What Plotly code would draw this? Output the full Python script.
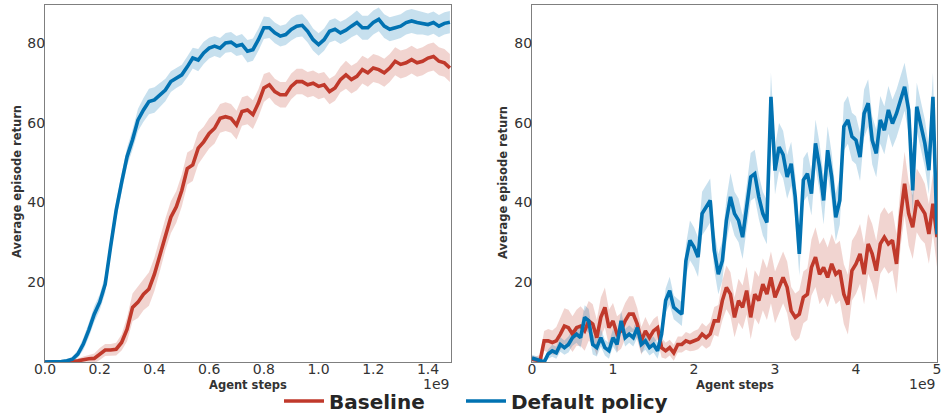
import plotly.graph_objects as go

# ---------------- data (agent steps in units of 1e9) ----------------
steps_left = [0.00, 0.02, 0.04, 0.06, 0.08, 0.10, 0.12, 0.14, 0.16, 0.18,
              0.20, 0.22, 0.24, 0.26, 0.28, 0.30, 0.32, 0.34, 0.36, 0.38,
              0.40, 0.42, 0.44, 0.46, 0.48, 0.50, 0.52, 0.54, 0.56, 0.58,
              0.60, 0.62, 0.64, 0.66, 0.68, 0.70, 0.72, 0.74, 0.76, 0.78,
              0.80, 0.82, 0.84, 0.86, 0.88, 0.90, 0.92, 0.94, 0.96, 0.98,
              1.00, 1.02, 1.04, 1.06, 1.08, 1.10, 1.12, 1.14, 1.16, 1.18,
              1.20, 1.22, 1.24, 1.26, 1.28, 1.30, 1.32, 1.34, 1.36, 1.38,
              1.40, 1.42, 1.44, 1.46, 1.48]

default_left = [0.0, 0.0, 0.0, 0.1, 0.3, 0.7, 2.0, 4.5, 8.0, 12.0,
                15.0, 19.5, 29.0, 38.0, 45.0, 51.5, 55.7, 60.7, 63.2, 65.3,
                65.7, 67.0, 68.2, 70.3, 71.2, 72.0, 74.0, 76.2, 75.7, 77.5,
                78.7, 79.2, 78.7, 80.0, 80.2, 79.2, 79.6, 77.9, 78.3, 80.8,
                83.8, 83.8, 82.5, 81.7, 82.1, 83.4, 84.2, 84.4, 82.9, 80.8,
                79.6, 80.8, 82.9, 83.4, 82.5, 83.2, 84.2, 85.1, 83.8, 83.8,
                85.1, 85.9, 84.2, 83.4, 83.8, 84.2, 85.1, 85.5, 85.1, 84.9,
                84.6, 85.1, 84.2, 84.9, 85.2]
default_left_spread = [0.3, 0.3, 0.3, 0.3, 0.4, 0.6, 1.0, 1.5, 1.8, 2.0,
                       2.0, 2.2, 2.2, 2.2, 2.2, 2.3, 2.5, 2.8, 3.0, 3.2,
                       3.2, 3.0, 2.8, 2.6, 2.5, 2.5, 2.6, 2.6, 2.8, 2.8,
                       2.6, 2.5, 2.5, 2.5, 2.5, 2.5, 2.6, 2.8, 2.8, 2.8,
                       2.8, 2.6, 2.6, 2.6, 2.6, 2.8, 2.8, 2.8, 2.8, 2.8,
                       2.8, 2.8, 2.8, 2.8, 2.8, 2.8, 2.8, 3.0, 3.0, 3.0,
                       3.0, 3.0, 3.0, 3.0, 3.0, 3.0, 3.0, 3.0, 3.0, 2.8,
                       2.8, 2.8, 2.8, 2.8, 2.8]

baseline_left = [0.0, 0.0, 0.0, 0.0, 0.0, 0.1, 0.3, 0.6, 0.8, 0.9,
                 2.0, 3.0, 3.0, 3.2, 4.9, 8.2, 13.7, 15.0, 17.0, 18.3,
                 22.0, 27.0, 32.0, 36.3, 38.9, 43.0, 48.5, 49.4, 53.6, 55.2,
                 57.3, 58.6, 61.1, 61.5, 61.1, 59.4, 62.8, 63.2, 62.0, 64.9,
                 68.7, 69.5, 67.8, 67.0, 67.0, 69.1, 70.3, 70.3, 69.5, 69.9,
                 69.1, 69.5, 67.8, 68.7, 70.8, 72.0, 70.8, 71.6, 73.3, 72.5,
                 73.7, 73.3, 72.5, 73.7, 75.4, 74.6, 75.0, 75.8, 75.0, 75.4,
                 76.2, 76.6, 75.4, 75.0, 73.7]
baseline_left_spread = [0.2, 0.2, 0.2, 0.2, 0.2, 0.3, 0.5, 0.8, 1.0, 1.2,
                        1.5, 1.5, 1.5, 1.6, 2.0, 3.0, 3.5, 4.0, 4.0, 4.2,
                        4.2, 4.2, 4.0, 4.0, 4.0, 4.0, 4.0, 4.0, 4.0, 3.8,
                        3.8, 3.8, 3.6, 3.6, 3.6, 3.6, 3.6, 3.6, 3.6, 3.5,
                        3.5, 3.2, 3.2, 3.2, 3.2, 3.2, 3.2, 3.2, 3.2, 3.2,
                        3.2, 3.2, 3.2, 3.2, 3.2, 3.5, 3.5, 3.5, 3.5, 3.5,
                        3.5, 3.5, 3.5, 3.5, 3.5, 3.5, 3.5, 3.5, 3.5, 3.5,
                        3.5, 3.5, 3.5, 3.5, 3.5]

steps_right = [0.00, 0.05, 0.10, 0.15, 0.20, 0.25, 0.30, 0.35, 0.40, 0.45,
               0.50, 0.55, 0.60, 0.65, 0.70, 0.75, 0.80, 0.85, 0.90, 0.95,
               1.00, 1.05, 1.10, 1.15, 1.20, 1.25, 1.30, 1.35, 1.40, 1.45,
               1.50, 1.55, 1.60, 1.65, 1.70, 1.75, 1.80, 1.85, 1.90, 1.95,
               2.00, 2.05, 2.10, 2.15, 2.20, 2.25, 2.30, 2.35, 2.40, 2.45,
               2.50, 2.55, 2.60, 2.65, 2.70, 2.75, 2.80, 2.85, 2.90, 2.95,
               3.00, 3.05, 3.10, 3.15, 3.20, 3.25, 3.30, 3.35, 3.40, 3.45,
               3.50, 3.55, 3.60, 3.65, 3.70, 3.75, 3.80, 3.85, 3.90, 3.95,
               4.00, 4.05, 4.10, 4.15, 4.20, 4.25, 4.30, 4.35, 4.40, 4.45,
               4.50, 4.55, 4.60, 4.65, 4.70, 4.75, 4.80, 4.85, 4.90, 4.95,
               5.00]

default_right = [1.0, 0.7, 0.3, 0.0, 2.0, 2.8, 2.3, 4.4, 3.6, 4.4,
                 6.1, 7.0, 6.1, 11.2, 10.3, 4.4, 3.6, 6.1, 3.6, 2.8,
                 6.1, 4.4, 10.3, 6.1, 7.0, 6.1, 8.6, 4.4, 5.3, 3.6,
                 4.4, 2.8, 7.0, 15.4, 17.9, 13.7, 12.8, 12.0, 25.4, 30.5,
                 28.8, 26.3, 37.2, 38.8, 40.5, 28.0, 22.0, 25.4, 35.5, 41.4,
                 37.2, 35.5, 31.3, 38.8, 46.4, 47.2, 41.4, 37.2, 35.0, 66.5,
                 48.0, 53.9, 52.0, 46.4, 49.7, 41.4, 27.1, 45.6, 47.2, 42.2,
                 54.8, 48.9, 40.5, 53.1, 46.4, 36.3, 40.5, 59.0, 60.7, 56.5,
                 55.6, 51.4, 62.3, 64.9, 55.6, 52.3, 60.7, 58.1, 63.2, 59.8,
                 62.3, 65.7, 69.0, 63.2, 43.0, 64.0, 59.0, 54.8, 48.1, 66.5,
                 32.0]
default_right_spread = [0.8, 0.8, 0.8, 0.8, 1.2, 1.5, 1.5, 1.8, 1.8, 2.0,
                        2.0, 2.2, 2.5, 3.0, 3.0, 2.5, 2.2, 2.2, 2.0, 2.0,
                        2.2, 2.2, 2.5, 2.2, 2.2, 2.2, 2.5, 2.2, 2.2, 2.0,
                        2.0, 2.0, 2.5, 3.0, 3.5, 3.0, 3.0, 3.0, 4.0, 5.0,
                        5.0, 5.0, 5.5, 5.5, 5.5, 5.0, 5.0, 5.0, 5.5, 6.0,
                        5.5, 5.5, 5.5, 5.5, 6.0, 6.0, 5.5, 5.5, 5.5, 6.0,
                        6.0, 6.0, 6.0, 5.5, 5.5, 5.5, 5.5, 5.5, 5.5, 5.5,
                        6.0, 6.0, 6.0, 6.0, 6.0, 6.0, 6.0, 6.0, 6.0, 6.0,
                        6.0, 6.0, 6.0, 6.0, 6.0, 6.0, 6.0, 6.0, 6.0, 6.0,
                        6.0, 6.0, 6.0, 6.0, 6.0, 6.0, 6.0, 6.0, 6.0, 6.0,
                        6.0]

baseline_right = [0.7, 0.4, 0.3, 5.3, 5.3, 4.9, 5.3, 7.0, 9.0, 8.6,
                  7.0, 8.6, 9.0, 7.8, 10.3, 9.5, 6.1, 11.2, 13.7, 8.6,
                  10.3, 7.0, 7.8, 10.3, 12.0, 12.0, 9.5, 5.3, 7.8, 6.1,
                  7.8, 8.6, 3.6, 2.8, 3.6, 2.3, 4.4, 4.4, 5.3, 4.9,
                  5.3, 5.7, 7.0, 6.1, 7.0, 10.3, 10.3, 15.4, 18.7, 17.0,
                  11.2, 15.4, 13.7, 17.9, 11.2, 17.0, 15.4, 19.5, 17.0, 21.2,
                  16.2, 18.7, 21.2, 18.7, 12.8, 11.2, 12.0, 16.2, 17.0, 23.7,
                  26.3, 22.0, 23.7, 21.2, 24.6, 22.0, 22.9, 17.0, 14.4, 22.9,
                  24.6, 27.1, 22.0, 29.6, 27.1, 22.9, 29.6, 31.3, 29.6, 30.5,
                  24.6, 36.3, 44.7, 37.2, 33.8, 40.5, 38.8, 37.2, 32.1, 39.7,
                  31.3]
baseline_right_spread = [0.8, 1.0, 1.5, 2.5, 3.0, 3.0, 3.5, 4.0, 4.5, 4.5,
                         4.5, 4.5, 5.0, 5.0, 5.0, 5.0, 4.5, 5.0, 5.0, 4.5,
                         4.5, 4.5, 4.5, 4.5, 4.5, 4.5, 4.0, 3.5, 3.5, 3.0,
                         3.0, 3.0, 2.5, 2.0, 2.0, 2.0, 2.0, 2.0, 2.2, 2.2,
                         2.5, 2.5, 2.8, 2.8, 3.0, 3.5, 4.0, 5.0, 5.5, 5.5,
                         5.0, 5.5, 5.5, 6.0, 5.5, 6.0, 6.0, 6.5, 6.5, 6.5,
                         6.5, 6.5, 6.5, 6.5, 6.0, 6.0, 6.0, 6.5, 6.5, 7.0,
                         7.5, 7.5, 7.5, 7.5, 7.5, 7.5, 7.5, 7.5, 7.5, 7.5,
                         7.5, 7.5, 7.5, 7.5, 7.5, 7.5, 7.5, 7.5, 7.5, 7.5,
                         7.5, 7.5, 8.0, 8.0, 8.0, 8.0, 8.0, 7.5, 7.5, 7.5,
                         7.5]

series_names = ["Baseline", "Default policy"]
x_tick_left = [0.0, 0.2, 0.4, 0.6, 0.8, 1.0, 1.2, 1.4]
x_tick_right = [0, 1, 2, 3, 4, 5]
y_ticks = [20, 40, 60, 80]

# ---------------- styling ----------------
RED = "rgb(192,57,43)"
BLUE = "rgb(1,114,178)"
RED_FILL = "rgba(192,57,43,0.22)"
BLUE_FILL = "rgba(1,114,178,0.22)"
FONT = "DejaVu Sans"
TXT = "#333333"

W, H = 943, 414
left_dom = [45 / W, 451 / W]
right_dom = [532 / W, 937 / W]
y_dom = [1 - 362 / H, 1 - 5 / H]

fig = go.Figure()


def add_band(x, y, s, fill, xa, ya):
    upper = [a + b for a, b in zip(y, s)]
    lower = [a - b for a, b in zip(y, s)]
    fig.add_trace(go.Scatter(
        x=list(x) + list(x)[::-1], y=upper + lower[::-1],
        fill="toself", fillcolor=fill, line=dict(width=0),
        mode="lines", hoverinfo="skip", showlegend=False,
        xaxis=xa, yaxis=ya))


def add_line(x, y, color, name, show, legend, xa, ya):
    fig.add_trace(go.Scatter(
        x=x, y=y, mode="lines", name=name,
        line=dict(color=color, width=3.6), legend=legend,
        showlegend=show, legendgroup=name, xaxis=xa, yaxis=ya))


# left panel
add_band(steps_left, baseline_left, baseline_left_spread, RED_FILL, "x", "y")
add_band(steps_left, default_left, default_left_spread, BLUE_FILL, "x", "y")
add_line(steps_left, baseline_left, RED, series_names[0], True, "legend", "x", "y")
add_line(steps_left, default_left, BLUE, series_names[1], True, "legend2", "x", "y")

# right panel
add_band(steps_right, baseline_right, baseline_right_spread, RED_FILL, "x2", "y2")
add_band(steps_right, default_right, default_right_spread, BLUE_FILL, "x2", "y2")
add_line(steps_right, baseline_right, RED, series_names[0], False, "legend", "x2", "y2")
add_line(steps_right, default_right, BLUE, series_names[1], False, "legend2", "x2", "y2")

axis_common = dict(showgrid=False, zeroline=False, showline=True, mirror=True,
                   linecolor="#7f7f7f", linewidth=1.3, ticks="",
                   automargin=False,
                   tickfont=dict(family=FONT, size=14, color=TXT))
xax = dict(axis_common, ticklabelstandoff=-6)
yax = dict(axis_common, ticklabelstandoff=-4)

legend_font = dict(family=FONT, size=20, color="#262626", weight="bold")

fig.update_layout(
    width=W, height=H,
    margin=dict(l=0, r=0, t=0, b=0, autoexpand=False),
    paper_bgcolor="white", plot_bgcolor="white",
    font=dict(family=FONT, color=TXT),
    xaxis=dict(domain=left_dom, range=[0, 1.484], tickvals=x_tick_left,
               ticktext=[f"{v:.1f}" for v in x_tick_left], anchor="y", **xax),
    yaxis=dict(domain=y_dom, range=[0, 89.5], tickvals=y_ticks, anchor="x", **yax),
    xaxis2=dict(domain=right_dom, range=[0, 5], tickvals=x_tick_right,
                ticktext=[str(v) for v in x_tick_right], anchor="y2", **xax),
    yaxis2=dict(domain=y_dom, range=[0, 89.5], tickvals=y_ticks, anchor="x2", **yax),
    legend=dict(orientation="h", x=279 / W, xanchor="left", y=1 - 401 / H,
                yanchor="middle", bgcolor="rgba(0,0,0,0)", font=legend_font,
                itemwidth=40),
    legend2=dict(orientation="h", x=461 / W, xanchor="left", y=1 - 401 / H,
                 yanchor="middle", bgcolor="rgba(0,0,0,0)", font=legend_font,
                 itemwidth=40),
    showlegend=True,
)

ann = []
for cx, rx in [((45 + 451) / 2, 451), ((532 + 937) / 2, 937)]:
    ann.append(dict(x=cx / W, y=1 - 385 / H, xref="paper", yref="paper",
                    text="<b>Agent steps</b>", showarrow=False,
                    font=dict(family=FONT, size=11.5, color=TXT),
                    xanchor="center", yanchor="middle"))
    ann.append(dict(x=rx / W, y=1 - 384 / H, xref="paper", yref="paper",
                    text="1e9", showarrow=False,
                    font=dict(family=FONT, size=14, color=TXT),
                    xanchor="right", yanchor="middle"))
for tx in [17, 503]:
    ann.append(dict(x=tx / W, y=1 - 182 / H, xref="paper", yref="paper",
                    text="<b>Average episode return</b>", showarrow=False,
                    textangle=-90,
                    font=dict(family=FONT, size=11.5, color=TXT),
                    xanchor="center", yanchor="middle"))
fig.update_layout(annotations=ann)

fig.write_html("out.html",
               config={"displayModeBar": False},
               post_script="document.body.style.margin='0';"
                           "document.body.style.overflow='hidden';")
